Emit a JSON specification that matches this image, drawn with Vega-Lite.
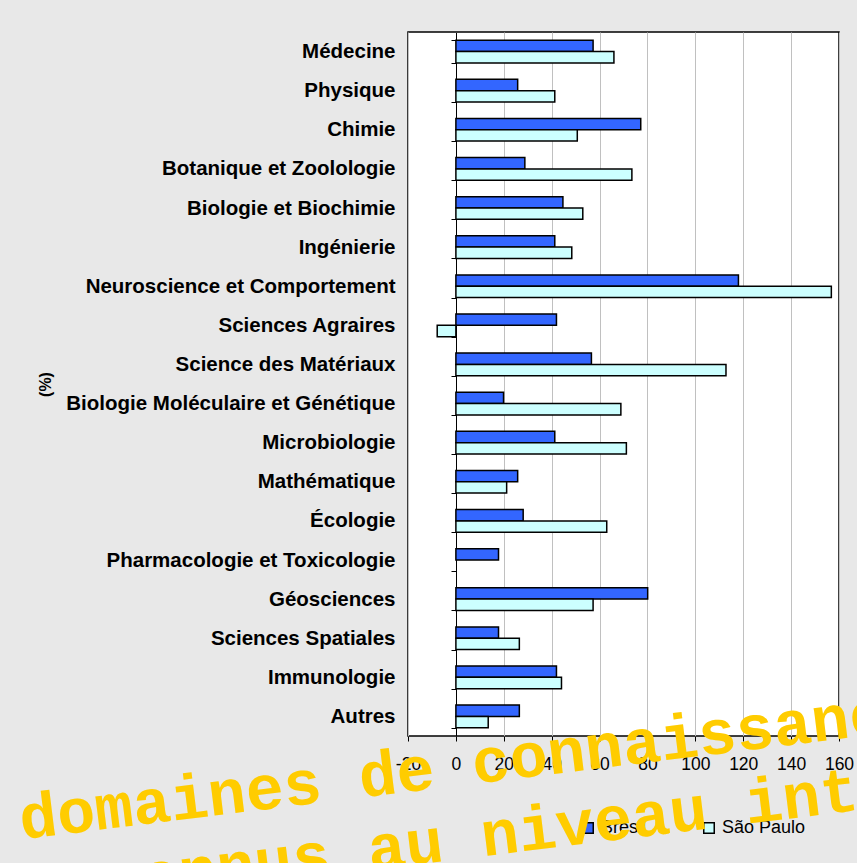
{
  "$schema": "https://vega.github.io/schema/vega-lite/v6.json",
  "width": 431,
  "height": 704,
  "autosize": {"type": "none"},
  "padding": {"left": 408, "top": 32, "right": 18, "bottom": 127},
  "background": "#E8E8E8",
  "title": {
    "text": ["domaines de connaissance les plus", "reconnus au niveau international"],
    "orient": "top",
    "anchor": "start",
    "frame": "group",
    "offset": 0,
    "angle": -7,
    "align": "left",
    "baseline": "alphabetic",
    "dx": -518,
    "dy": 1050,
    "font": "Liberation Mono",
    "fontWeight": "bold",
    "fontSize": 63.3,
    "lineHeight": 73,
    "color": "#FFCC00",
    "zindex": 1
  },
  "data": {
    "values": [
      {"domaine": "Médecine", "serie": "Brésil", "valeur": 57.3},
      {"domaine": "Médecine", "serie": "São Paulo", "valeur": 66.0},
      {"domaine": "Physique", "serie": "Brésil", "valeur": 25.8},
      {"domaine": "Physique", "serie": "São Paulo", "valeur": 41.3},
      {"domaine": "Chimie", "serie": "Brésil", "valeur": 77.2},
      {"domaine": "Chimie", "serie": "São Paulo", "valeur": 50.7},
      {"domaine": "Botanique et Zoolologie", "serie": "Brésil", "valeur": 28.8},
      {"domaine": "Botanique et Zoolologie", "serie": "São Paulo", "valeur": 73.5},
      {"domaine": "Biologie et Biochimie", "serie": "Brésil", "valeur": 44.7},
      {"domaine": "Biologie et Biochimie", "serie": "São Paulo", "valeur": 53.0},
      {"domaine": "Ingénierie", "serie": "Brésil", "valeur": 41.3},
      {"domaine": "Ingénierie", "serie": "São Paulo", "valeur": 48.4},
      {"domaine": "Neuroscience et Comportement", "serie": "Brésil", "valeur": 118.0},
      {"domaine": "Neuroscience et Comportement", "serie": "São Paulo", "valeur": 156.8},
      {"domaine": "Sciences Agraires", "serie": "Brésil", "valeur": 42.0},
      {"domaine": "Sciences Agraires", "serie": "São Paulo", "valeur": -7.8},
      {"domaine": "Science des Matériaux", "serie": "Brésil", "valeur": 56.6},
      {"domaine": "Science des Matériaux", "serie": "São Paulo", "valeur": 112.8},
      {"domaine": "Biologie Moléculaire et Génétique", "serie": "Brésil", "valeur": 19.9},
      {"domaine": "Biologie Moléculaire et Génétique", "serie": "São Paulo", "valeur": 68.9},
      {"domaine": "Microbiologie", "serie": "Brésil", "valeur": 41.3},
      {"domaine": "Microbiologie", "serie": "São Paulo", "valeur": 71.2},
      {"domaine": "Mathématique", "serie": "Brésil", "valeur": 25.8},
      {"domaine": "Mathématique", "serie": "São Paulo", "valeur": 21.2},
      {"domaine": "Écologie", "serie": "Brésil", "valeur": 28.1},
      {"domaine": "Écologie", "serie": "São Paulo", "valeur": 63.0},
      {"domaine": "Pharmacologie et Toxicologie", "serie": "Brésil", "valeur": 17.8},
      {"domaine": "Géosciences", "serie": "Brésil", "valeur": 80.1},
      {"domaine": "Géosciences", "serie": "São Paulo", "valeur": 57.3},
      {"domaine": "Sciences Spatiales", "serie": "Brésil", "valeur": 17.8},
      {"domaine": "Sciences Spatiales", "serie": "São Paulo", "valeur": 26.5},
      {"domaine": "Immunologie", "serie": "Brésil", "valeur": 42.0},
      {"domaine": "Immunologie", "serie": "São Paulo", "valeur": 44.1},
      {"domaine": "Autres", "serie": "Brésil", "valeur": 26.5},
      {"domaine": "Autres", "serie": "São Paulo", "valeur": 13.5}
    ]
  },
  "mark": {"type": "bar", "stroke": "black", "strokeWidth": 1.5},
  "encoding": {
    "y": {
      "field": "domaine",
      "type": "nominal",
      "sort": null,
      "scale": {"paddingInner": 0.42, "paddingOuter": 0.21},
      "axis": {
        "title": "(%)",
        "offset": -48,
        "tickBand": "extent",
        "tickSize": 5,
        "tickColor": "black",
        "domainColor": "black",
        "domainWidth": 1,
        "labelPadding": 56,
        "labelFont": "Liberation Sans",
        "labelFontWeight": "bold",
        "labelFontSize": 20.5,
        "labelColor": "black",
        "labelLimit": 500,
        "titleFont": "Liberation Sans",
        "titleFontSize": 16,
        "titleFontWeight": "bold",
        "titleColor": "black",
        "titlePadding": 203
      }
    },
    "x": {
      "field": "valeur",
      "type": "quantitative",
      "scale": {"domain": [-20, 160], "nice": false},
      "axis": {
        "title": null,
        "values": [-20, 0, 20, 40, 60, 80, 100, 120, 140, 160],
        "labelExpr": "'' + datum.value",
        "grid": true,
        "gridColor": "#C0C0C0",
        "gridWidth": 1,
        "domain": false,
        "tickSize": 5,
        "tickColor": "black",
        "labelFont": "Liberation Sans",
        "labelFontSize": 17.5,
        "labelColor": "black",
        "labelPadding": 14,
        "labelFlush": false,
        "labelOverlap": false
      }
    },
    "yOffset": {"field": "serie", "sort": ["Brésil", "São Paulo"]},
    "color": {
      "field": "serie",
      "type": "nominal",
      "scale": {"domain": ["Brésil", "São Paulo"], "range": ["#3366FF", "#CCFFFF"]},
      "legend": {
        "title": null,
        "orient": "none",
        "legendX": 171,
        "legendY": 787,
        "direction": "horizontal",
        "symbolType": "square",
        "symbolSize": 110,
        "symbolStrokeColor": "black",
        "symbolStrokeWidth": 1.5,
        "labelFont": "Liberation Sans",
        "labelFontSize": 18,
        "labelColor": "black",
        "columnPadding": 53
      }
    }
  },
  "config": {
    "view": {"stroke": "black", "strokeWidth": 1.5, "fill": "white"}
  }
}
